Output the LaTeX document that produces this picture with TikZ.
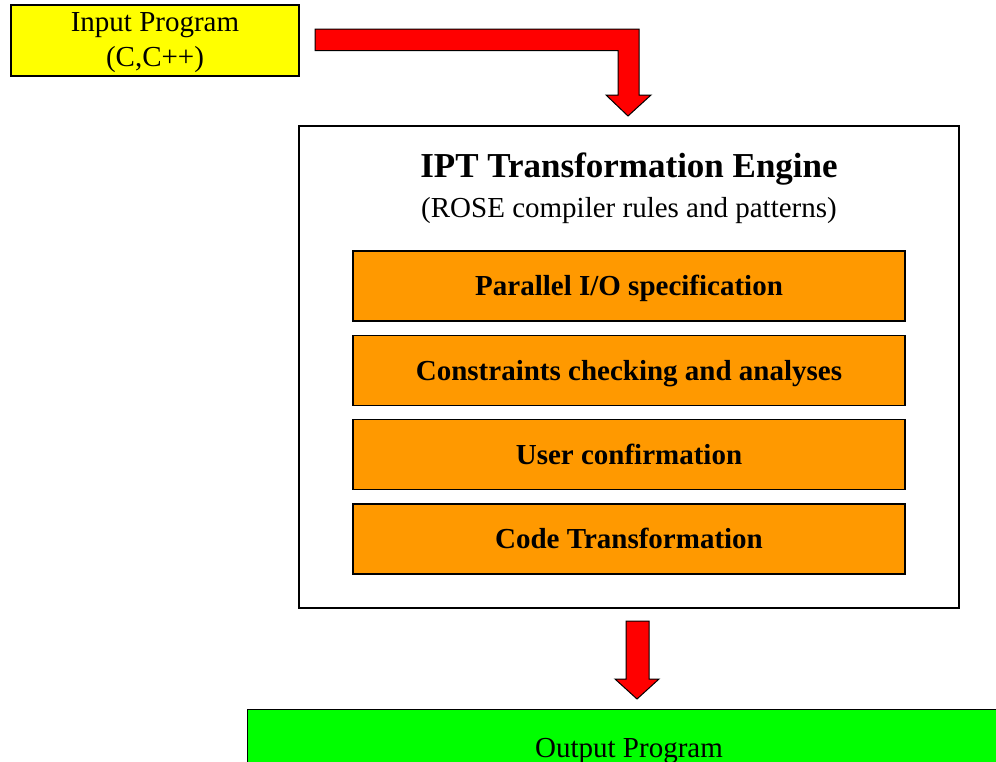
\documentclass[tikz,border=0pt]{standalone}
\usepackage{fontspec}
\setmainfont{Liberation Serif}
\definecolor{inyellow}{RGB}{255,255,0}
\definecolor{stepor}{RGB}{255,153,0}
\definecolor{outgreen}{RGB}{0,255,0}
\definecolor{arrred}{RGB}{255,0,0}
\tikzset{
  boxline/.style={draw=black, line width=1.2pt},
  stepbox/.style={boxline, fill=stepor, minimum width=552pt, minimum height=70pt, inner sep=0pt, text height=19pt, text depth=0pt, font=\fontsize{29}{33}\selectfont\bfseries},
  bigarrow/.style={draw=black, line width=1pt, fill=arrred, line join=miter},
}
\begin{document}
\begin{tikzpicture}[x=1pt,y=-1pt]
\useasboundingbox (0,0) rectangle (996,761);
\clip (0,0) rectangle (996,761);
% input
\node[boxline, fill=inyellow, minimum width=288pt, minimum height=71pt, inner sep=0pt] (input) at (155,40.5) {};
\node[align=center, font=\fontsize{29}{35}\selectfont, inner sep=0pt] (intext) at (155,42.5) {Input Program\\(C,C++)};
% engine
\node[boxline, fill=white, minimum width=660pt, minimum height=482pt, inner sep=0pt] (engine) at (629,367) {};
\node[font=\fontsize{35}{40}\selectfont\bfseries] (title) at (629,169) {IPT Transformation Engine};
\node[font=\fontsize{29}{33}\selectfont] (subtitle) at (629,211) {(ROSE compiler rules and patterns)};
\node[stepbox] (s1) at (629,286) {Parallel I/O specification};
\node[stepbox] (s2) at (629,370.5) {Constraints checking and analyses};
\node[stepbox] (s3) at (629,454.5) {User confirmation};
\node[stepbox] (s4) at (629,539) {Code Transformation};
% output
\node[boxline, fill=outgreen, minimum width=760pt, minimum height=80pt, inner sep=0pt, anchor=north west] (output) at (247,709) {};
\node[font=\fontsize{29}{33}\selectfont] (outtext) at (629,751) {Output Program};
% bent arrow
\coordinate (a1) at (315,29);
\draw[bigarrow] (a1) -- (639,29) -- (639,95) -- (651,95) -- (628,116) -- (606,95) -- (618,95) -- (618,50.5) -- (315,50.5) -- cycle;
% down arrow
\coordinate (b1) at (626,621);
\draw[bigarrow] (b1) -- (649,621) -- (649,679) -- (659,679) -- (637,699) -- (615,679) -- (626,679) -- cycle;
\end{tikzpicture}
\end{document}
